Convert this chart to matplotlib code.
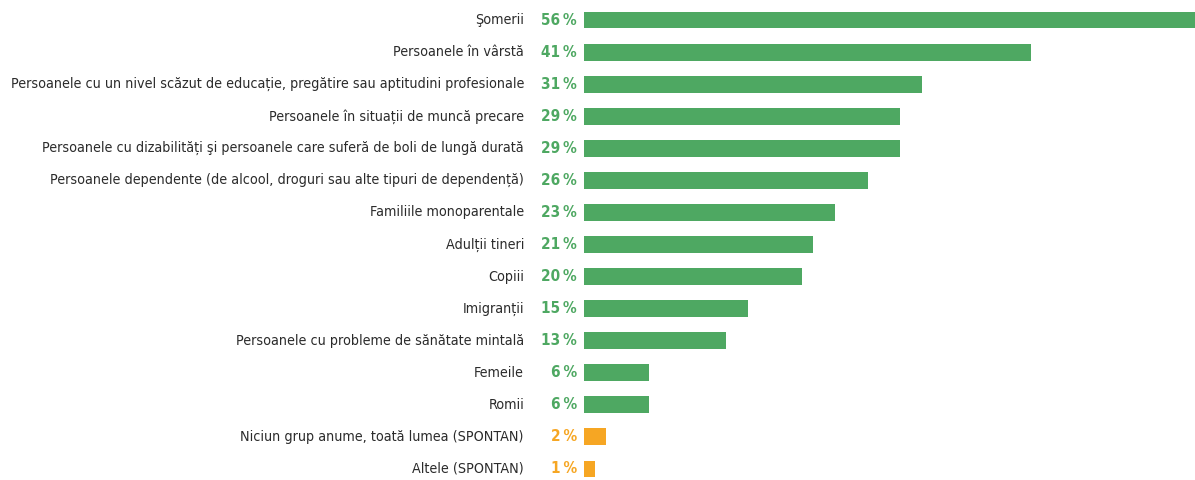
import matplotlib
matplotlib.use("Agg")
import matplotlib.pyplot as plt

categories = [
    "Şomerii",
    "Persoanele în vârstă",
    "Persoanele cu un nivel scăzut de educație, pregătire sau aptitudini profesionale",
    "Persoanele în situații de muncă precare",
    "Persoanele cu dizabilități şi persoanele care suferă de boli de lungă durată",
    "Persoanele dependente (de alcool, droguri sau alte tipuri de dependență)",
    "Familiile monoparentale",
    "Adulții tineri",
    "Copiii",
    "Imigranții",
    "Persoanele cu probleme de sănătate mintală",
    "Femeile",
    "Romii",
    "Niciun grup anume, toată lumea (SPONTAN)",
    "Altele (SPONTAN)",
]
values = [56, 41, 31, 29, 29, 26, 23, 21, 20, 15, 13, 6, 6, 2, 1]
spontan = [False] * 13 + [True, True]

green = "#4ea862"
orange = "#f6a623"
colors = [orange if s else green for s in spontan]

fig = plt.figure(figsize=(11.95, 4.8), dpi=100)
ax = fig.add_axes([584 / 1195, 0, 1 - 584 / 1195, 1])

y = list(range(len(values)))
ax.barh(y, values, height=0.53, color=colors)
ax.set_xlim(0, 56)
ax.set_ylim(14 + 11 / 32.07, -20 / 32.07)
ax.axis("off")

fs = 12.5
cat_texts = []
for i, (cat, v, c) in enumerate(zip(categories, values, colors)):
    t = ax.annotate(cat, (0, i), xytext=(-60, 0), textcoords="offset pixels",
                    ha="right", va="center", fontsize=fs, color="#2b2b2b",
                    family="DejaVu Sans", fontstretch="condensed")
    cat_texts.append(t)
    ax.annotate(f"{v}\u2009%", (0, i), xytext=(-7, 0), textcoords="offset pixels",
                ha="right", va="center", fontsize=11, color=c,
                fontweight="bold", family="DejaVu Sans", fontstretch="condensed")

# shrink labels so the longest one spans about the same width as the original
fig.canvas.draw()
r = fig.canvas.get_renderer()
widest = max(t.get_window_extent(r).width for t in cat_texts)
new_fs = fs * 514 / widest
for t in cat_texts:
    t.set_fontsize(new_fs)

fig.savefig("out.png", dpi=100)
